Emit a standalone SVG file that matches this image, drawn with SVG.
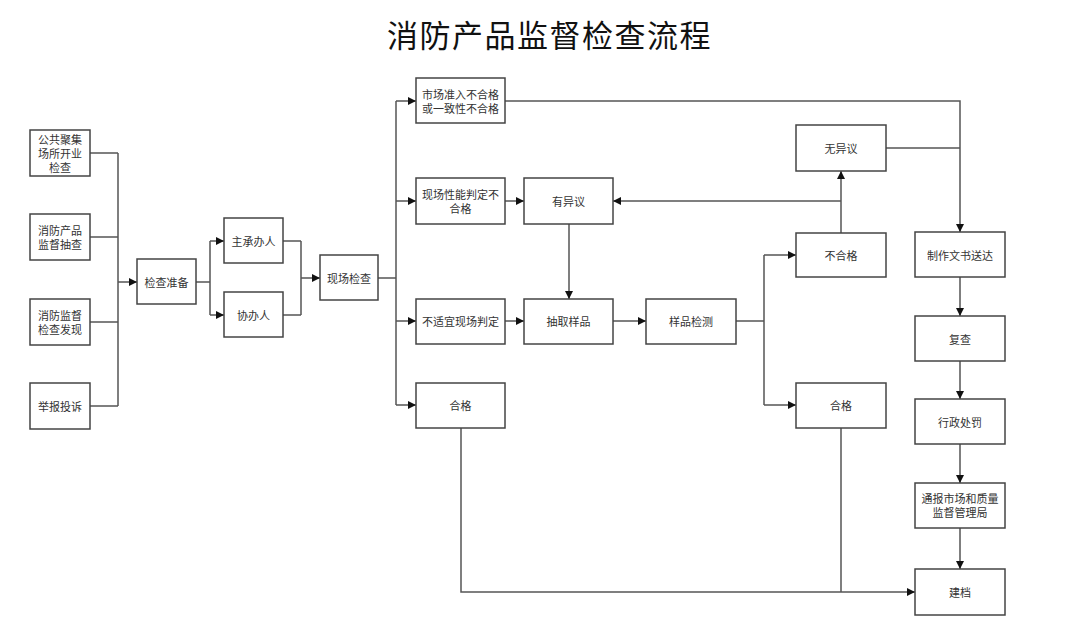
<svg xmlns="http://www.w3.org/2000/svg" width="1080" height="621" viewBox="0 0 1080 621">
<style>
.box{fill:#fff;stroke:#444;stroke-width:1.5}
.t{font-family:"Noto Sans CJK SC","Noto Sans",sans-serif;font-size:11px;fill:#333;text-anchor:middle;dominant-baseline:central}
.title{font-family:"Noto Sans CJK SC","Noto Sans",sans-serif;font-size:31px;letter-spacing:1.5px;fill:#111;text-anchor:middle;dominant-baseline:central}
.c{fill:none;stroke:#555;stroke-width:1.5}
.a{marker-end:url(#arr)}
</style>
<defs>
<marker id="arr" viewBox="0 0 10 10" refX="10" refY="5" markerWidth="9" markerHeight="8" markerUnits="userSpaceOnUse" orient="auto">
<path d="M0,0 L10,5 L0,10 z" fill="#111"/>
</marker>
</defs>
<rect width="1080" height="621" fill="#fff"/>
<text class="title" x="549.5" y="33">消防产品监督检查流程</text>

<g id="connectors">
<path class="c" d="M90,153H118M90,237H118M90,322H118M90,406H118M118,153V406"/>
<path class="c a" d="M118,282H137"/>
<path class="c" d="M196,282H210M210,241V315"/>
<path class="c a" d="M210,241H224"/>
<path class="c a" d="M210,315H224"/>
<path class="c" d="M283,241H301M283,315H301M301,241V315"/>
<path class="c a" d="M301,278H320"/>
<path class="c" d="M378,278H396M396,101V405"/>
<path class="c a" d="M396,101H416"/>
<path class="c a" d="M396,201H416"/>
<path class="c a" d="M396,321H416"/>
<path class="c a" d="M396,405H416"/>
<path class="c a" d="M505,101H960V232"/>
<path class="c a" d="M505,201H524"/>
<path class="c a" d="M569,224V299"/>
<path class="c a" d="M505,321H524"/>
<path class="c a" d="M613,321H646"/>
<path class="c" d="M736,321H764M764,255V405"/>
<path class="c a" d="M764,255H796"/>
<path class="c a" d="M764,405H796"/>
<path class="c a" d="M841,233V171"/>
<path class="c a" d="M841,201H613"/>
<path class="c" d="M886,148H960"/>
<path class="c a" d="M960,277V316"/>
<path class="c a" d="M960,361V399"/>
<path class="c a" d="M960,444V483"/>
<path class="c a" d="M960,528V569"/>
<path class="c a" d="M461,428V592H915"/>
<path class="c" d="M841,428V592"/>
</g>

<g id="n1"><rect class="box" x="30" y="130" width="60" height="46"/><text class="t" x="60" y="139">公共聚集</text><text class="t" x="60" y="153">场所开业</text><text class="t" x="60" y="167">检查</text></g>
<g id="n2"><rect class="box" x="30" y="214" width="60" height="46"/><text class="t" x="60" y="230">消防产品</text><text class="t" x="60" y="244">监督抽查</text></g>
<g id="n3"><rect class="box" x="30" y="299" width="60" height="46"/><text class="t" x="60" y="315">消防监督</text><text class="t" x="60" y="329">检查发现</text></g>
<g id="n4"><rect class="box" x="30" y="383" width="60" height="46"/><text class="t" x="60" y="406">举报投诉</text></g>
<g id="n5"><rect class="box" x="137" y="259" width="59" height="45"/><text class="t" x="166.5" y="282">检查准备</text></g>
<g id="n6"><rect class="box" x="224" y="218" width="59" height="45"/><text class="t" x="253.5" y="241">主承办人</text></g>
<g id="n7"><rect class="box" x="224" y="292" width="59" height="45"/><text class="t" x="253.5" y="315">协办人</text></g>
<g id="n8"><rect class="box" x="320" y="255" width="58" height="45"/><text class="t" x="349" y="278">现场检查</text></g>
<g id="n9"><rect class="box" x="416" y="78" width="89" height="45"/><text class="t" x="460.5" y="94">市场准入不合格</text><text class="t" x="460.5" y="108">或一致性不合格</text></g>
<g id="n10"><rect class="box" x="416" y="178" width="89" height="46"/><text class="t" x="460.5" y="194">现场性能判定不</text><text class="t" x="460.5" y="208">合格</text></g>
<g id="n11"><rect class="box" x="524" y="178" width="89" height="46"/><text class="t" x="568.5" y="201">有异议</text></g>
<g id="n12"><rect class="box" x="416" y="299" width="89" height="45"/><text class="t" x="460.5" y="321">不适宜现场判定</text></g>
<g id="n13"><rect class="box" x="524" y="299" width="89" height="45"/><text class="t" x="568.5" y="321">抽取样品</text></g>
<g id="n14"><rect class="box" x="416" y="383" width="89" height="45"/><text class="t" x="460.5" y="405">合格</text></g>
<g id="n15"><rect class="box" x="646" y="299" width="90" height="45"/><text class="t" x="691" y="321">样品检测</text></g>
<g id="n16"><rect class="box" x="796" y="125" width="90" height="46"/><text class="t" x="841" y="148">无异议</text></g>
<g id="n17"><rect class="box" x="796" y="233" width="90" height="44"/><text class="t" x="841" y="255">不合格</text></g>
<g id="n18"><rect class="box" x="796" y="383" width="90" height="45"/><text class="t" x="841" y="405">合格</text></g>
<g id="n19"><rect class="box" x="915" y="232" width="90" height="45"/><text class="t" x="960" y="254.5">制作文书送达</text></g>
<g id="n20"><rect class="box" x="915" y="316" width="90" height="45"/><text class="t" x="960" y="338.5">复查</text></g>
<g id="n21"><rect class="box" x="915" y="399" width="90" height="45"/><text class="t" x="960" y="421.5">行政处罚</text></g>
<g id="n22"><rect class="box" x="915" y="483" width="90" height="45"/><text class="t" x="960" y="498">通报市场和质量</text><text class="t" x="960" y="512">监督管理局</text></g>
<g id="n23"><rect class="box" x="915" y="569" width="90" height="46"/><text class="t" x="960" y="592">建档</text></g>
</svg>
